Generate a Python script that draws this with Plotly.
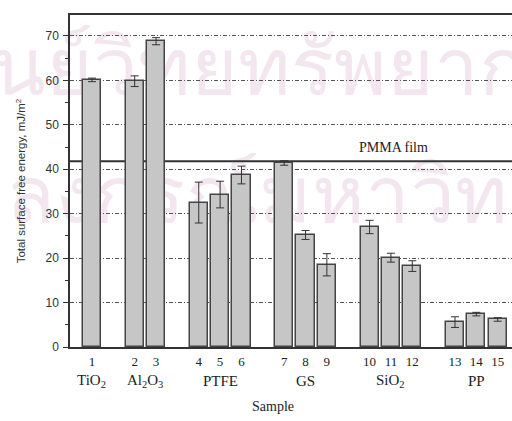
import plotly.graph_objects as go

# ---- data ----
groups = ["TiO<sub>2</sub>", "Al<sub>2</sub>O<sub>3</sub>", "PTFE", "GS", "SiO<sub>2</sub>", "PP"]
group_samples = [[1], [2, 3], [4, 5, 6], [7, 8, 9], [10, 11, 12], [13, 14, 15]]
energy = [60.1, 59.8, 68.8, 32.5, 34.3, 38.7, 41.4, 25.2, 18.5, 27.0, 20.1, 18.2, 5.6, 7.4, 6.2]
energy_err = [0.4, 1.2, 0.8, 4.6, 3.0, 2.0, 0.5, 1.0, 2.5, 1.5, 1.0, 1.2, 1.2, 0.4, 0.4]
pmma_film = 41.8
y_ticks = [0, 10, 20, 30, 40, 50, 60, 70]

# positions: groups separated by one empty slot
pos = []
group_centers = []
p = 0
for g in group_samples:
    gp = []
    for s in g:
        gp.append(p)
        p += 1
    pos.extend(gp)
    group_centers.append(sum(gp) / len(gp))
    p += 1
labels = [str(s) for g in group_samples for s in g]

serif = "Liberation Serif, Times New Roman, serif"
sans = "Liberation Sans, Arial, sans-serif"
wm_color = "#f4e6ef"

fig = go.Figure()
fig.add_trace(go.Bar(
    x=pos, y=energy, width=0.85,
    marker=dict(color="#c6c6c6", line=dict(color="#444444", width=1.5)),
    error_y=dict(type="data", array=energy_err, visible=True, color="#333333", thickness=1, width=4),
    showlegend=False, hoverinfo="skip",
))

# watermark
fig.add_shape(type="rect", xref="paper", yref="paper", x0=-0.182, x1=1.018, y0=0.696, y1=0.976,
              line=dict(width=0), fillcolor="rgba(0,0,0,0)", layer="below",
              label=dict(text="ศูนย์วิทยทรัพยากร", font=dict(size=80, color=wm_color, family="Noto Sans, sans-serif"),
                         textposition="middle center"))
fig.add_shape(type="rect", xref="paper", yref="paper", x0=-0.33, x1=1.27, y0=0.306, y1=0.596,
              line=dict(width=0), fillcolor="rgba(0,0,0,0)", layer="below",
              label=dict(text="จุฬาลงกรณ์มหาวิทยาลัย", font=dict(size=80, color=wm_color, family="Noto Sans, sans-serif"),
                         textposition="middle center"))

# PMMA film reference line
fig.add_shape(type="line", xref="paper", yref="y", x0=0, x1=1, y0=pmma_film, y1=pmma_film,
              line=dict(color="#333333", width=2), layer="between")
fig.add_annotation(text="PMMA film", xref="paper", yref="y", x=0.731, xanchor="center", y=pmma_film + 3.0,
                   showarrow=False, font=dict(family=serif, size=14, color="#222222"))

for name, c in zip(groups, group_centers):
    fig.add_annotation(text=name, x=c, xref="x", xanchor="center", yref="paper", y=-0.102, yanchor="middle",
                       showarrow=False, font=dict(family=serif, size=15, color="#222222"))
fig.add_annotation(text="Sample", xref="paper", xanchor="center", yref="paper", x=0.459, y=-0.178, yanchor="middle",
                   showarrow=False, font=dict(family=serif, size=14, color="#222222"))

fig.update_layout(
    width=512, height=421,
    margin=dict(l=70, r=0, t=15, b=74, autoexpand=False),
    paper_bgcolor="white", plot_bgcolor="rgba(0,0,0,0)",
    bargap=0,
)
fig.update_xaxes(
    range=[-1.03, 19.67], tickvals=pos, ticktext=labels, ticks="", automargin=False,
    ticklabelstandoff=2,
    showgrid=False, zeroline=False,
    showline=True, mirror=True, linecolor="#333333", linewidth=1.5,
    tickfont=dict(family=serif, size=13, color="#222222"),
)
fig.update_yaxes(
    range=[0, 74.7], tickvals=y_ticks, ticks="outside", ticklen=5, tickcolor="#333333", automargin=False,
    ticklabelstandoff=2,
    minor=dict(dtick=5, ticks="outside", ticklen=3, tickcolor="#333333", showgrid=False),
    showgrid=True, gridcolor="#555555", gridwidth=1, griddash="4px,2px,1px,2px",
    zeroline=False, showline=True, linecolor="#333333", linewidth=1.5,
    tickfont=dict(family=sans, size=12, color="#333333"),
    title=dict(text="Total surface free energy, mJ/m<sup>2</sup>", font=dict(family=sans, size=11.5, color="#333333"), standoff=17),
)

fig.write_html("out.html", config={"displayModeBar": False},
               post_script="document.body.style.margin='0';document.body.style.overflow='hidden';")
